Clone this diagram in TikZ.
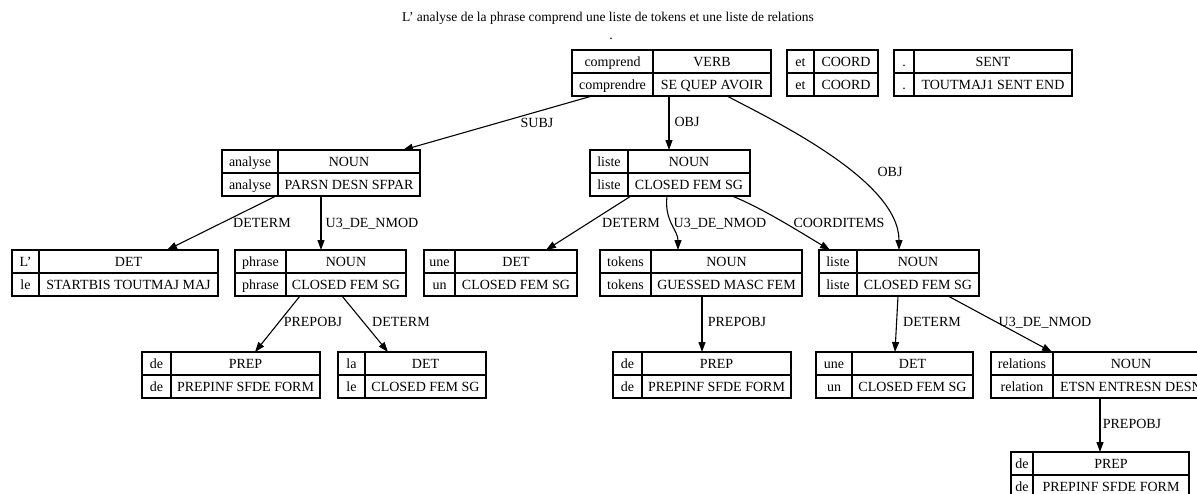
\documentclass[tikz,border=0pt]{standalone}
\usepackage{fontspec}
\setmainfont{Liberation Serif}
\usetikzlibrary{arrows.meta}
\tikzset{
  recbox/.style={draw, line width=1.1pt, inner sep=0pt, outer sep=0pt, minimum height=46pt},
  recline/.style={line width=1.1pt},
  celltext/.style={font=\fontsize{14}{16}\selectfont, inner sep=0pt, text height=9.3pt, text depth=0pt},
  edge/.style={line width=1.1pt, -{Triangle[length=10pt,width=7pt]}},
  elabel/.style={font=\fontsize{14}{16}\selectfont, inner sep=0pt, text height=9.3pt, text depth=0pt},
}
\newcommand\rec[9]{%
  \node[recbox, minimum width={(#4-#2)*1pt}, anchor=north west] (#1) at (#2,#5) {};
  \draw[recline] (#1.west) -- (#1.east);
  \draw[recline] (#3,#5) -- (#3,{#5+46});
  \node[celltext] (#1-tl) at ({(#2+#3)/2},{#5+11.5}) {#6};
  \node[celltext] (#1-tr) at ({(#3+#4)/2},{#5+11.5}) {#7};
  \node[celltext] (#1-bl) at ({(#2+#3)/2},{#5+34.5}) {#8};
  \node[celltext] (#1-br) at ({(#3+#4)/2},{#5+34.5}) {#9};
}
\begin{document}
\begin{tikzpicture}[x=1pt,y=-1pt]
\path[use as bounding box] (0,0) rectangle (1197,493);
\clip (0,0) rectangle (1197,493);
\fill[white] (0,0) rectangle (1197,493);

\node[font=\fontsize{13.5}{16}\selectfont, inner sep=0pt] (title) at (608,18) {L' analyse de la phrase comprend une liste de tokens et une liste de relations};
\node[font=\fontsize{14}{16}\selectfont, inner sep=0pt] (dot) at (611,39) {.};

% row 1
\rec{comprend}{572}{653}{771}{50}{comprend}{VERB}{comprendre}{SE QUEP AVOIR}
\rec{et}{787}{814}{878}{50}{et}{COORD}{et}{COORD}
\rec{sent}{894}{914}{1072}{50}{.}{SENT}{.}{TOUTMAJ1 SENT END}
% row 2
\rec{analyse}{222}{278}{420}{150}{analyse}{NOUN}{analyse}{PARSN DESN SFPAR}
\rec{listeA}{590}{628}{750}{150}{liste}{NOUN}{liste}{CLOSED FEM SG}
% row 3
\rec{L}{12}{39}{218}{250}{L'}{DET}{le}{STARTBIS TOUTMAJ MAJ}
\rec{phrase}{235}{286}{406}{250}{phrase}{NOUN}{phrase}{CLOSED FEM SG}
\rec{uneA}{424}{455}{577}{250}{une}{DET}{un}{CLOSED FEM SG}
\rec{tokens}{600}{651}{802}{250}{tokens}{NOUN}{tokens}{GUESSED MASC FEM}
\rec{listeB}{819}{857}{979}{250}{liste}{NOUN}{liste}{CLOSED FEM SG}
% row 4
\rec{deA}{142}{171}{320}{352}{de}{PREP}{de}{PREPINF SFDE FORM}
\rec{la}{338}{365}{486}{352}{la}{DET}{le}{CLOSED FEM SG}
\rec{deB}{613}{642}{791}{352}{de}{PREP}{de}{PREPINF SFDE FORM}
\rec{uneB}{816}{852}{973}{352}{une}{DET}{un}{CLOSED FEM SG}
\rec{relations}{991}{1053}{1209}{352}{relations}{NOUN}{relation}{ETSN ENTRESN DESN}
% row 5
\rec{deC}{1011}{1033}{1189}{452}{de}{PREP}{de}{PREPINF SFDE FORM}

% edges
\draw[edge] ([xshift=20pt]comprend.south west) -- ([xshift=181pt]analyse.north west);
\draw[edge] ([xshift=97pt]comprend.south west) -- ([xshift=79pt]listeA.north west);
\draw[edge] ([xshift=155pt]comprend.south west) .. controls +(45,24) and +(0,-70) .. ([xshift=80pt]listeB.north west);
\draw[edge] ([xshift=54pt]analyse.south west) -- ([xshift=155pt]L.north west);
\draw[edge] ([xshift=99pt]analyse.south west) -- ([xshift=86pt]phrase.north west);
\draw[edge] ([xshift=41pt]listeA.south west) -- ([xshift=122pt]uneA.north west);
\draw[edge] ([xshift=77pt]listeA.south west) .. controls +(-3,25) and +(0,-20) .. ([xshift=78pt]tokens.north west);
\draw[edge] ([xshift=142pt]listeA.south west) .. controls +(30,12) and +(-30,-18) .. ([xshift=11pt]listeB.north west);
\draw[edge] ([xshift=65pt]phrase.south west) -- ([xshift=113pt]deA.north west);
\draw[edge] ([xshift=107pt]phrase.south west) -- ([xshift=50pt]la.north west);
\draw[edge] ([xshift=102pt]tokens.south west) -- ([xshift=89pt]deB.north west);
\draw[edge] ([xshift=79pt]listeB.south west) -- ([xshift=79pt]uneB.north west);
\draw[edge] ([xshift=129pt]listeB.south west) -- ([xshift=61pt]relations.north west);
\draw[edge] ([xshift=109pt]relations.south west) -- ([xshift=89pt]deC.north west);

% labels
\node[elabel] (l-subj) at (537,123) {SUBJ};
\node[elabel] (l-obj1) at (687,122) {OBJ};
\node[elabel] (l-obj2) at (890,172) {OBJ};
\node[elabel] (l-det1) at (262,223) {DETERM};
\node[elabel] (l-u31) at (372,223) {U3\_DE\_NMOD};
\node[elabel] (l-det2) at (631,223) {DETERM};
\node[elabel] (l-u32) at (720,223) {U3\_DE\_NMOD};
\node[elabel] (l-coord) at (839,223) {COORDITEMS};
\node[elabel] (l-prep1) at (313,322) {PREPOBJ};
\node[elabel] (l-det3) at (401,322) {DETERM};
\node[elabel] (l-prep2) at (737,322) {PREPOBJ};
\node[elabel] (l-det4) at (932,322) {DETERM};
\node[elabel] (l-u33) at (1045,322) {U3\_DE\_NMOD};
\node[elabel] (l-prep3) at (1132,424) {PREPOBJ};
\end{tikzpicture}
\end{document}
